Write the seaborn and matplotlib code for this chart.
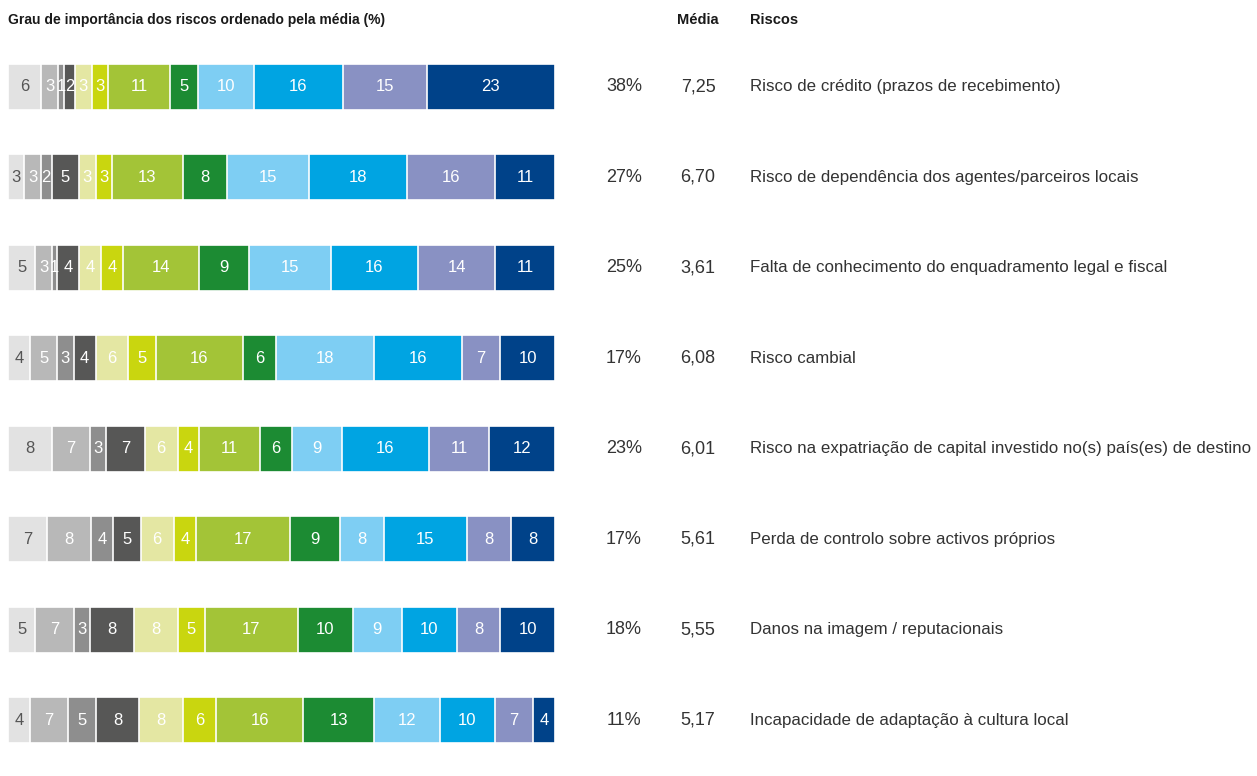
import numpy as np
import pandas as pd
import matplotlib
matplotlib.use("Agg")
import matplotlib.pyplot as plt
import matplotlib.transforms as mtransforms
import seaborn as sns

risks = [
    "Risco de crédito (prazos de recebimento)",
    "Risco de dependência dos agentes/parceiros locais",
    "Falta de conhecimento do enquadramento legal e fiscal",
    "Risco cambial",
    "Risco na expatriação de capital investido no(s) país(es) de destino",
    "Perda de controlo sobre activos próprios",
    "Danos na imagem / reputacionais",
    "Incapacidade de adaptação à cultura local",
]
top_pct = ["38%", "27%", "25%", "17%", "23%", "17%", "18%", "11%"]
media = ["7,25", "6,70", "3,61", "6,08", "6,01", "5,61", "5,55", "5,17"]

s1 = [6, 3, 5, 4, 8, 7, 5, 4]
s2 = [3, 3, 3, 5, 7, 8, 7, 7]
s3 = [1, 2, 1, 3, 3, 4, 3, 5]
s4 = [2, 5, 4, 4, 7, 5, 8, 8]
s5 = [3, 3, 4, 6, 6, 6, 8, 8]
s6 = [3, 3, 4, 5, 4, 4, 5, 6]
s7 = [11, 13, 14, 16, 11, 17, 17, 16]
s8 = [5, 8, 9, 6, 6, 9, 10, 13]
s9 = [10, 15, 15, 18, 9, 8, 9, 12]
s10 = [16, 18, 16, 16, 16, 15, 10, 10]
s11 = [15, 16, 14, 7, 11, 8, 8, 7]
s12 = [23, 11, 11, 10, 12, 8, 10, 4]

series = [s1, s2, s3, s4, s5, s6, s7, s8, s9, s10, s11, s12]
colors = ["#e2e2e2", "#b8b8b8", "#8e8e8e", "#575756", "#e4e7a3", "#c9d60f",
          "#a3c437", "#1c8b33", "#7ecef3", "#00a4e2", "#8991c3", "#004289"]

sns.set_theme(style="white")
plt.rcParams["font.family"] = ["Liberation Sans", "DejaVu Sans"]

W, H = 1257, 776
fig = plt.figure(figsize=(W / 100, H / 100), dpi=100)
row_sp = 90.43
top_px = 87 - row_sp / 2
bot_px = 720 + row_sp / 2
ax = fig.add_axes([8 / W, 1 - bot_px / H, 547 / W, (bot_px - top_px) / H])

vals = np.array(series, dtype=float)  # 12 x 8
totals = vals.sum(axis=0)
norm = vals / totals * 100
cum = np.cumsum(norm, axis=0)

for k in range(len(series) - 1, -1, -1):
    df = pd.DataFrame({"risk": risks, "cum": cum[k]})
    sns.barplot(data=df, x="cum", y="risk", color=colors[k], orient="h",
                width=0.51, edgecolor="white", linewidth=1.2, saturation=1,
                ax=ax)

ax.set_xlim(0, 100)
ax.set_ylim(len(risks) - 0.5, -0.5)
ax.axis("off")

for k in range(len(series)):
    for i in range(len(risks)):
        start = cum[k][i] - norm[k][i]
        ax.text(start + norm[k][i] / 2, i, str(series[k][i]), ha="center",
                va="center", fontsize=12,
                color="#555555" if k == 0 else "white")

# right-hand text columns: x in figure pixels, y in data rows
trans = mtransforms.blended_transform_factory(
    mtransforms.Affine2D().scale(1 / W, 1) + fig.transFigure, ax.transData)
for i in range(len(risks)):
    ax.text(624, i, top_pct[i], transform=trans, fontsize=13,
            ha="center", va="center", color="#333333")
    ax.text(698, i, media[i], transform=trans, fontsize=13,
            ha="center", va="center", color="#333333")
    ax.text(750, i, risks[i], transform=trans, fontsize=12.2,
            ha="left", va="center", color="#333333")

fig.text(8 / W, 1 - 20 / H, "Grau de importância dos riscos ordenado pela média (%)",
         fontsize=10, fontweight="bold", ha="left", va="center", color="#1a1a1a")
fig.text(698 / W, 1 - 20 / H, "Média", fontsize=10.5, fontweight="bold",
         ha="center", va="center", color="#1a1a1a")
fig.text(750 / W, 1 - 20 / H, "Riscos", fontsize=10.5, fontweight="bold",
         ha="left", va="center", color="#1a1a1a")

fig.savefig("out.png", dpi=100, facecolor="white")
